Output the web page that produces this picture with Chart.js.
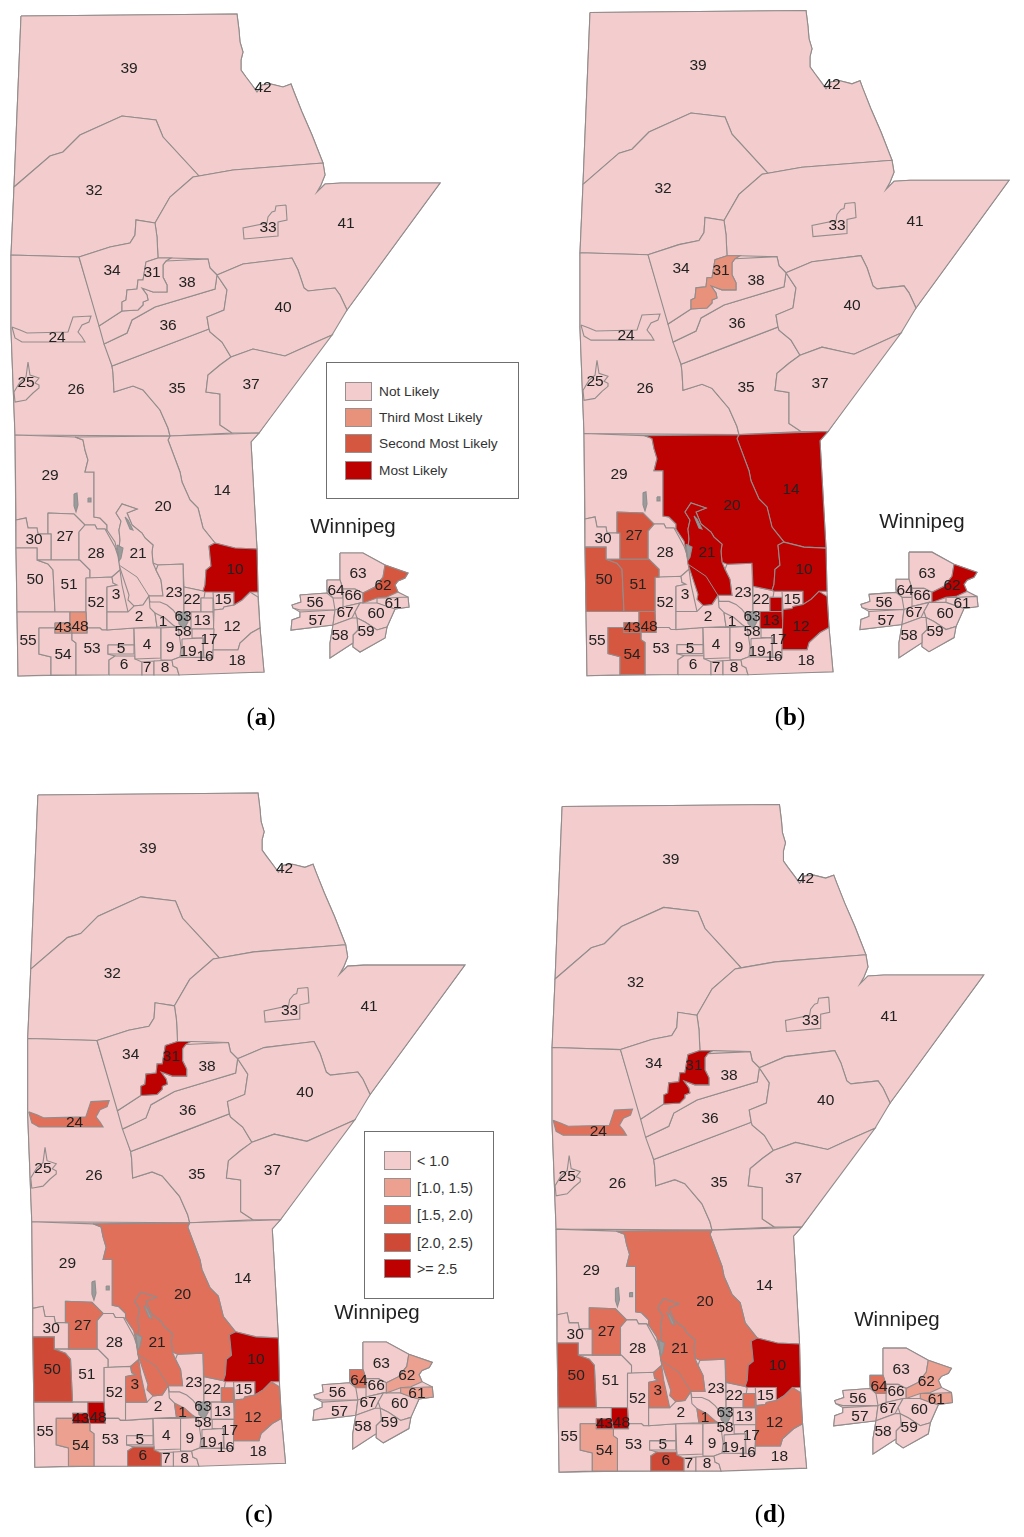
<!DOCTYPE html>
<html>
<head>
<meta charset="utf-8">
<title>Manitoba regions</title>
<script src="https://cdn.jsdelivr.net/npm/chart.js@4/dist/chart.umd.min.js"></script>
<style>
    body { margin: 0; background: #fff; font-family: "Liberation Sans", Arial, sans-serif; }
    #page { position: relative; width: 1024px; height: 1537px; overflow: hidden; filter: blur(0.4px); }
    #map { position: absolute; left: 0; top: 0; }
    .box { position: absolute; border: 1.5px solid #6f6f6f; box-sizing: border-box; background: #fff; }
    .swatch { position: absolute; width: 27px; height: 19px; border: 1px solid #9a8f8f; box-sizing: border-box; }
    .key { position: absolute; line-height: 20px; color: #333; white-space: nowrap; }
    .city { position: absolute; font-size: 20.5px; line-height: 24px; color: #222; transform: translateX(-50%); }
    .caption { position: absolute; font-family: "Liberation Serif", serif; font-size: 25px; line-height: 30px; color: #000; transform: translateX(-50%); }
</style>
</head>
<body>
<div id="page"><canvas id="map" width="1024" height="1537"></canvas></div>
<script>
// Colours of the two legends
const notLikelyColors = ['#f3cdcd', '#e8927c', '#d6573f', '#bd0000'];
const notLikelyLabels = ['Not Likely', 'Third Most Likely', 'Second Most Likely', 'Most Likely'];
const rangeColors = ['#f3cdcd', '#eca090', '#e0705a', '#cf4a36', '#bd0000'];
const rangeLabels = ['< 1.0', '[1.0, 1.5)', '[1.5, 2.0)', '[2.0, 2.5)', '>= 2.5'];

// Regions per class, anything not listed is the palest class
const panelAThird = ['43', '48'];
const panelASecond = ['62'];
const panelAMost = ['10'];
const panelBThird = ['31'];
const panelBSecond = ['27', '50', '51', '54', '48', '43'];
const panelBMost = ['20', '14', '21', '10', '12', '13', '13a', '62'];
const panelCLight = ['54', '62', '61'];
const panelCMid = ['20', '21', '27', '12', '24', '3', '1', '13a', '64'];
const panelCHigh = ['50', '6'];
const panelCTop = ['10', '31', '43', '48'];
const panelDLight = ['54', '62', '61'];
const panelDMid = ['20', '21', '27', '12', '24', '3', '1', '13a', '64'];
const panelDHigh = ['50', '6'];
const panelDTop = ['10', '31', '43', '48'];

// Map geometry, in the units of panel (a)
const outline = [21,16, 237,14, 239,30, 240,42, 243,52, 241,60, 241,70, 246,77, 252,85, 257,92, 262,85, 271,84, 283,87, 291,84, 294,92, 302,112, 312,135, 323,163, 325,175, 321,185, 317,192, 325,184, 341,183, 440,183, 347,310, 259,433, 251,442, 257,549, 258,592, 260,628, 264,672, 18,676, 17,612, 16,550, 15,435, 11,330, 11,255, 14,187];
const insetOutline = [340,553, 363,553, 385,565, 408,573, 405,578, 398,581, 395,585, 398,592, 408,597, 409,607, 395,609, 387,627, 385,638, 360,652, 353,647, 353,643, 330,658, 330,643, 333,625, 291,630, 292,620, 300,617, 300,612, 293,608, 292,605, 301,602, 300,595, 327,593, 327,580, 340,580];

const shapes = {
    '39': [21,16, 237,14, 239,30, 240,42, 243,52, 241,60, 241,70, 246,77, 252,85, 257,92, 262,85, 271,84, 283,87, 291,84, 294,92, 302,112, 312,135, 323,163, 233,170, 199,176, 163,137, 156,120, 122,116, 80,135, 63,152, 50,156, 14,187],
    '32': [14,187, 50,156, 63,152, 80,135, 122,116, 156,120, 163,137, 199,176, 193,177, 170,197, 155,223, 136,220, 135,235, 130,243, 110,247, 79,257, 11,255],
    '41': [199,176, 233,170, 323,163, 325,175, 321,185, 317,192, 325,184, 341,183, 440,183, 347,310, 340,295, 335,288, 308,291, 304,288, 298,270, 292,258, 243,264, 217,275, 210,268, 208,259, 171,258, 158,258, 157,237, 155,223, 170,197, 193,177],
    '33': [286,205, 276,206, 275,211, 272,212, 268,217, 267,223, 243,228, 244,239, 278,236, 278,222, 287,220],
    '34': [79,257, 110,247, 130,243, 135,235, 136,220, 155,223, 157,237, 158,258, 146,262, 143,280, 138,280, 137,289, 127,290, 126,300, 122,302, 122,311, 99,326],
    '38': [166,261, 208,259, 210,268, 217,275, 215,289, 155,307, 132,320, 127,333, 104,344, 99,326, 122,311, 138,310, 143,305, 143,302, 148,300, 147,295, 142,288, 153,292, 167,292, 167,285, 163,277, 163,265],
    '31': [146,262, 158,258, 171,258, 166,261, 163,265, 163,277, 167,285, 167,292, 153,292, 142,288, 147,295, 148,300, 143,302, 143,305, 138,310, 122,311, 122,302, 126,300, 127,290, 137,289, 138,280, 143,280],
    '36': [104,344, 127,333, 132,320, 155,307, 215,289, 217,275, 227,290, 224,310, 207,317, 209,329, 167,345, 112,366],
    '40': [217,275, 243,264, 292,258, 298,270, 304,288, 308,291, 335,288, 340,295, 347,310, 332,335, 305,347, 285,356, 253,349, 231,357, 222,342, 210,332, 209,329, 207,317, 224,310, 227,290],
    '37': [231,357, 253,349, 285,356, 305,347, 332,335, 259,433, 232,433, 220,425, 220,394, 206,392, 208,375, 220,365],
    '35': [112,366, 167,345, 209,329, 210,332, 222,342, 231,357, 220,365, 208,375, 206,392, 220,394, 220,425, 232,433, 170,436, 168,428, 160,410, 143,390, 133,386, 114,392, 113,373],
    '26': [11,255, 79,257, 112,366, 113,373, 114,392, 133,386, 143,390, 160,410, 168,428, 170,436, 15,435, 11,330],
    '24': [12,327, 20,330, 27,333, 68,332, 73,317, 91,316, 89,322, 82,325, 78,332, 82,337, 85,342, 22,342, 15,338],
    '25': [28,362, 30,375, 39,378, 35,383, 39,385, 39,388, 33,393, 26,400, 15,402, 14,392, 20,382, 26,377],
    '14': [170,436, 259,433, 251,442, 257,549, 235,548, 215,543, 203,528, 198,508, 190,500, 182,482, 180,472, 168,440],
    '20': [75,437, 170,436, 168,440, 180,472, 182,482, 190,500, 198,508, 203,528, 215,543, 209,546, 211,566, 206,570, 205,585, 203,591, 184,587, 183,564, 158,565, 153,563, 152,552, 153,545, 145,538, 142,533, 132,525, 127,513, 137,509, 122,504, 116,513, 121,521, 119,530, 120,540, 118,556, 115,542, 107,530, 107,525, 100,518, 94,517, 94,472, 85,472, 88,460, 85,450, 83,440],
    '21': [116,513, 122,504, 137,509, 127,513, 132,525, 142,533, 145,538, 153,545, 152,552, 153,563, 156,570, 161,580, 163,596, 149,596, 143,605, 134,606, 128,600, 129,595, 119,565, 118,556, 120,540, 119,530, 121,521],
    '29': [15,435, 75,437, 83,440, 85,450, 88,460, 85,472, 94,472, 94,517, 100,518, 107,525, 107,530, 105,529, 97,529, 95,525, 85,525, 74,514, 48,513, 48,534, 38,534, 37,528, 28,528, 26,518, 16,520],
    '27': [48,513, 74,514, 85,525, 79,532, 79,560, 51,560, 51,534, 48,534],
    '30': [16,520, 26,518, 28,528, 37,528, 38,534, 51,534, 51,560, 37,560, 37,548, 16,548],
    '50': [16,548, 37,548, 37,560, 48,564, 53,570, 55,612, 17,612],
    '51': [37,560, 80,560, 90,570, 90,578, 86,578, 86,612, 55,612, 53,570, 48,564],
    '28': [79,532, 85,525, 95,525, 97,529, 105,529, 110,538, 115,547, 118,556, 120,570, 112,577, 90,578, 90,570, 80,560, 79,560],
    '52': [86,578, 112,577, 113,583, 117,585, 107,587, 107,630, 102,630, 100,628, 87,628, 86,612],
    '3': [107,587, 117,585, 113,583, 112,577, 120,570, 122,585, 128,612, 107,612],
    '55': [17,612, 70,612, 70,623, 55,623, 55,628, 39,628, 39,654, 51,657, 51,675, 18,676],
    '54': [39,628, 55,628, 55,633, 72,633, 72,640, 76,643, 76,675, 51,675, 51,657, 39,654],
    '53': [72,633, 87,633, 87,628, 100,628, 102,630, 107,630, 134,628, 134,645, 108,645, 108,654, 115,656, 109,660, 109,675, 76,675, 76,643, 72,640],
    '43': [55,623, 70,623, 72,633, 55,633],
    '48': [70,612, 86,612, 87,633, 72,633, 70,623],
    '5': [108,645, 134,645, 134,654, 108,654],
    '6': [109,675, 109,660, 115,656, 135,656, 135,659, 142,662, 142,675],
    '4': [134,628, 161,628, 161,658, 135,659],
    '7': [142,662, 154,661, 154,675, 142,675],
    '8': [154,661, 172,660, 173,666, 177,668, 179,675, 154,675],
    '9': [161,628, 178,627, 180,640, 181,647, 180,657, 172,660, 161,660],
    '2': [107,612, 128,612, 134,606, 143,605, 149,596, 150,608, 155,613, 157,627, 134,628, 107,630],
    '1': [155,613, 165,618, 173,625, 176,627, 157,627],
    '23': [158,565, 183,564, 184,612, 177,615, 173,610, 167,605, 160,602, 150,602, 149,596, 163,596, 161,580, 156,570],
    '22': [184,587, 203,591, 205,592, 204,598, 201,598, 201,612, 184,612],
    '13a': [201,598, 213,598, 213,612, 201,612],
    '13': [191,612, 213,612, 214,629, 191,629],
    '15': [213,592, 234,592, 234,605, 224,607, 223,609, 214,610],
    '10': [209,546, 215,543, 235,548, 257,549, 258,592, 250,592, 242,600, 234,605, 234,592, 205,592, 203,591, 205,585, 206,570, 211,566],
    '12': [214,610, 223,609, 224,607, 234,605, 242,600, 250,592, 258,597, 260,628, 251,633, 240,643, 238,650, 213,650],
    '17': [192,629, 214,629, 213,650, 213,658, 204,658, 203,638, 192,638],
    '19': [182,639, 203,638, 203,657, 182,658],
    '18': [172,660, 180,657, 213,658, 213,650, 238,650, 240,643, 251,633, 260,628, 264,672, 179,675, 177,668, 173,666],
    '63': [340,553, 363,553, 385,565, 383,577, 375,587, 363,593, 355,589, 343,589, 340,580],
    '62': [385,565, 408,573, 405,578, 398,581, 395,585, 398,592, 387,597, 377,598, 363,603, 363,593, 375,587, 383,577],
    '64': [327,580, 340,580, 343,589, 343,598, 333,598, 327,590],
    '66': [343,589, 355,589, 363,593, 363,603, 360,603, 343,607, 343,598],
    '56': [300,595, 327,593, 333,598, 335,610, 300,610, 293,608, 292,605, 301,602],
    '57': [300,612, 335,610, 333,625, 291,630, 292,620, 300,617],
    '67': [335,610, 343,607, 360,603, 355,612, 352,618, 333,625],
    '61': [387,598, 408,597, 409,607, 395,609, 387,607, 377,603, 377,598],
    '60': [360,603, 377,603, 395,609, 387,627, 377,630, 365,622, 357,618, 355,612],
    '59': [357,618, 365,622, 377,630, 387,627, 385,638, 360,652, 353,647, 353,635, 358,630],
    '58': [333,625, 352,618, 357,618, 358,630, 353,635, 353,643, 330,658, 330,643]
};
// Drawn in this order, the enclosed regions after the ones round them
const regionOrder = ['39','32','41','33','26','24','25','35','36','38','34','31','40','37','14','29','20','21','27','30','50','51','28','52','3','55','54','53','43','48','5','6','4','7','8','9','2','1','23','22','13a','13','15','10','12','17','19','18','63','64','66','56','57','67','62','61','60','59','58'];

// Lakes and the small built-up patch
const lakes = [
    [74,494, 77,493, 78,505, 76,512, 74,506],
    [88,498, 91,498, 91,502, 88,502],
    [117,545, 123,548, 121,558, 119,561],
    [125,517, 128,520, 133,530, 130,529],
    [178,612, 187,612, 188,622, 184,629, 179,624]
];
// The unfilled line that runs through region 21
const innerLine = [119,565, 137,577, 149,596];

const regionLabels = ['39','42','32','33','41','34','31','38','36','40','24','25','26','35','37','29','20','14','30','27','28','21','10','50','51','52','3','23','22','15','2','1','63','13','12','58','17','43','48','55','54','53','5','4','9','19','16','18','6','7','8','63','62','64','66','56','67','61','60','57','59','58'];
const labelX = [129,263,94,268,346,112,152,187,168,283,57,26,76,177,251,50,163,222,34,65,96,138,235,35,69,96,116,174,192,223,139,163,183,202,232,183,209,63,80,28,63,92,121,147,170,188,205,237,124,147,165,358,383,336,353,315,345,393,376,317,366,340];
const labelY = [69,88,191,228,224,271,273,283,326,308,338,383,390,389,385,476,507,491,540,537,554,554,570,580,585,603,595,593,600,600,617,622,617,621,627,632,640,628,627,641,655,649,649,645,648,652,657,661,665,668,668,574,586,591,596,603,613,604,614,621,632,636];

// How each panel sits on the page: page = scale * unit + shift
const panelScaleX = [1, 1, 1.019, 1.006];
const panelShiftX = [0, 569, 16.5, 541];
const panelScaleY = [1, 1.005, 1.0186, 1.0085];
const panelShiftY = [0, -3.6, 778.7, 790.4];

function pairs(flat) {
    let points = [];
    for (let i = 0; i < flat.length; i += 2) {
        points.push({ x: flat[i], y: flat[i + 1] });
    }
    return points;
}

function closed(flat) {
    return pairs(flat.concat([flat[0], flat[1]]));
}

function colorLookup(groups, colors) {
    let lookup = {};
    groups.forEach((group, i) => group.forEach(id => lookup[id] = colors[i + 1]));
    return lookup;
}

const panelColors = [
    colorLookup([panelAThird, panelASecond, panelAMost], notLikelyColors),
    colorLookup([panelBThird, panelBSecond, panelBMost], notLikelyColors),
    colorLookup([panelCLight, panelCMid, panelCHigh, panelCTop], rangeColors),
    colorLookup([panelDLight, panelDMid, panelDHigh, panelDTop], rangeColors)
];

function polygon(flat, color, panel, border) {
    return {
        data: closed(flat),
        xAxisID: 'x' + panel,
        yAxisID: 'y' + panel,
        showLine: true,
        fill: 'shape',
        backgroundColor: color,
        borderColor: border,
        borderWidth: 1.1,
        pointRadius: 0,
        tension: 0
    };
}

let datasets = [];
let scales = {};
panelColors.forEach((colors, panel) => {
    scales['x' + panel] = {
        type: 'linear', display: false,
        min: -panelShiftX[panel] / panelScaleX[panel],
        max: (1024 - panelShiftX[panel]) / panelScaleX[panel]
    };
    scales['y' + panel] = {
        type: 'linear', display: false, reverse: true,
        min: -panelShiftY[panel] / panelScaleY[panel],
        max: (1537 - panelShiftY[panel]) / panelScaleY[panel]
    };
    datasets.push(polygon(outline, notLikelyColors[0], panel, '#938c8c'));
    datasets.push(polygon(insetOutline, notLikelyColors[0], panel, '#938c8c'));
    // pale regions first so the coloured ones keep their whole border
    regionOrder.filter(id => !colors[id]).forEach(id => {
        datasets.push(polygon(shapes[id], notLikelyColors[0], panel, '#938c8c'));
    });
    regionOrder.filter(id => colors[id]).forEach(id => {
        datasets.push(polygon(shapes[id], colors[id], panel, '#938c8c'));
    });
    lakes.forEach(lake => datasets.push(polygon(lake, '#9b9b9b', panel, '#8f8f8f')));
    datasets.push({
        data: pairs(innerLine),
        xAxisID: 'x' + panel,
        yAxisID: 'y' + panel,
        showLine: true,
        fill: false,
        borderColor: '#938c8c',
        borderWidth: 1,
        pointRadius: 0
    });
});
// Chart.js paints dataset 0 last
datasets.reverse();

const numberPlugin = {
    id: 'regionNumbers',
    afterDatasetsDraw(chart) {
        let ctx = chart.ctx;
        ctx.save();
        ctx.font = '15.5px "Liberation Sans", Arial, sans-serif';
        ctx.fillStyle = '#222';
        ctx.textAlign = 'center';
        ctx.textBaseline = 'middle';
        panelColors.forEach((_, panel) => {
            let xs = chart.scales['x' + panel];
            let ys = chart.scales['y' + panel];
            regionLabels.forEach((text, i) => {
                ctx.fillText(text, xs.getPixelForValue(labelX[i]), ys.getPixelForValue(labelY[i]));
            });
        });
        ctx.restore();
    }
};

new Chart(document.getElementById('map').getContext('2d'), {
    type: 'scatter',
    data: { datasets: datasets },
    options: {
        responsive: false,
        animation: false,
        devicePixelRatio: 1,
        layout: { padding: 0 },
        clip: false,
        scales: scales,
        plugins: { legend: { display: false }, tooltip: { enabled: false } }
    },
    plugins: [numberPlugin]
});

// Legends, titles and captions
let page = document.getElementById('page');

function addDiv(className, left, top, html) {
    let div = document.createElement('div');
    div.className = className;
    div.style.left = left + 'px';
    div.style.top = top + 'px';
    if (html) div.innerHTML = html;
    page.appendChild(div);
    return div;
}

function addLegend(left, top, width, height, labels, colors, swatchX, swatchY, textX, fontSize) {
    let box = addDiv('box', left, top);
    box.style.width = width + 'px';
    box.style.height = height + 'px';
    labels.forEach((label, i) => {
        addDiv('swatch', swatchX, swatchY[i]).style.background = colors[i];
        let key = addDiv('key', textX, swatchY[i] - 0.5);
        key.style.fontSize = fontSize + 'px';
        key.textContent = label;
    });
}

addLegend(326, 362, 193, 137, notLikelyLabels, notLikelyColors, 345, [382, 408, 434, 461], 379, 13.7);
addLegend(364, 1131, 130, 168, rangeLabels, rangeColors, 384, [1151, 1178, 1205, 1233, 1259], 417, 14.2);

addDiv('city', 353, 514, 'Winnipeg');
addDiv('city', 922, 509, 'Winnipeg');
addDiv('city', 377, 1300, 'Winnipeg');
addDiv('city', 897, 1307, 'Winnipeg');

addDiv('caption', 261, 702, '(<b>a</b>)');
addDiv('caption', 790, 702, '(<b>b</b>)');
addDiv('caption', 259, 1499, '(<b>c</b>)');
addDiv('caption', 770, 1499, '(<b>d</b>)');
</script>
</body>
</html>
